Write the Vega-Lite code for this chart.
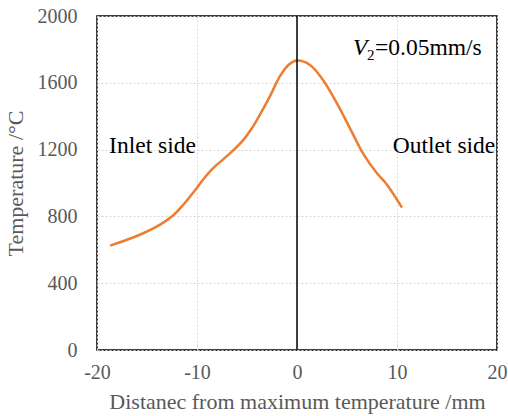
{
  "$schema": "https://vega.github.io/schema/vega-lite/v6.json",
  "autosize": "none",
  "padding": {"left": 97, "top": 16, "right": 11, "bottom": 66},
  "width": 400,
  "height": 334,
  "background": "white",
  "config": {
    "view": {"stroke": "#000000", "strokeWidth": 1.5},
    "font": "Liberation Serif",
    "axis": {
      "labelFont": "Liberation Serif",
      "titleFont": "Liberation Serif",
      "labelColor": "#595959",
      "titleColor": "#595959",
      "labelFontSize": 20,
      "titleFontSize": 22,
      "titleFontWeight": "normal",
      "labelFlush": false,
      "labelOverlap": false,
      "domain": false,
      "ticks": false,
      "gridColor": "#d5d5d5",
      "gridDash": [2, 2],
      "gridWidth": 1
    }
  },
  "datasets": {
    "curve": [
      {"d": -18.7, "t": 625},
      {"d": -16.2, "t": 678},
      {"d": -13.6, "t": 754},
      {"d": -12.4, "t": 805},
      {"d": -11.4, "t": 868},
      {"d": -10.0, "t": 972},
      {"d": -9.4, "t": 1020},
      {"d": -8.6, "t": 1076},
      {"d": -8.0, "t": 1110},
      {"d": -6.7, "t": 1177},
      {"d": -5.4, "t": 1255},
      {"d": -4.6, "t": 1320},
      {"d": -3.7, "t": 1410},
      {"d": -2.7, "t": 1520},
      {"d": -1.7, "t": 1640},
      {"d": -0.8, "t": 1710},
      {"d": 0.0, "t": 1733},
      {"d": 1.3, "t": 1707},
      {"d": 2.6, "t": 1617},
      {"d": 4.0, "t": 1477},
      {"d": 5.3, "t": 1327},
      {"d": 6.6, "t": 1178},
      {"d": 8.0, "t": 1058},
      {"d": 9.0, "t": 990},
      {"d": 10.5, "t": 852}
    ],
    "labels": [
      {"d": -14.45, "t": 1221, "label": "Inlet side"},
      {"d": 14.7, "t": 1221, "label": "Outlet side"}
    ]
  },
  "layer": [
    {
      "data": {"name": "curve"},
      "mark": {"type": "line", "color": "#ED7D31", "strokeWidth": 2.5, "interpolate": "catmull-rom"},
      "encoding": {
        "x": {
          "field": "d", "type": "quantitative",
          "scale": {"domain": [-20, 20], "nice": false},
          "axis": {"values": [-20, -10, 0, 10, 20], "labelExpr": "datum.value + ''", "title": "Distanec from maximum temperature /mm", "labelPadding": 12, "titlePadding": 9}
        },
        "y": {
          "field": "t", "type": "quantitative",
          "scale": {"domain": [0, 2000], "nice": false},
          "axis": {"values": [0, 400, 800, 1200, 1600, 2000], "labelExpr": "datum.value + ''", "title": "Temperature /°C", "labelPadding": 20, "titlePadding": 10}
        }
      }
    },
    {
      "data": {"values": [{"d": 0}]},
      "mark": {"type": "rule", "color": "#000000", "strokeWidth": 1.5},
      "encoding": {"x": {"field": "d", "type": "quantitative"}}
    },
    {
      "data": {"name": "labels"},
      "mark": {"type": "text", "font": "Liberation Serif", "fontSize": 23.5, "color": "#000000", "align": "center", "baseline": "middle"},
      "encoding": {
        "x": {"field": "d", "type": "quantitative"},
        "y": {"field": "t", "type": "quantitative"},
        "text": {"field": "label"}
      }
    },
    {
      "data": {"values": [{"d": 5.6, "t": 1808, "label": "V"}]},
      "mark": {"type": "text", "font": "Liberation Serif", "fontStyle": "italic", "fontSize": 23.5, "color": "#000000", "align": "left", "baseline": "middle"},
      "encoding": {
        "x": {"field": "d", "type": "quantitative"},
        "y": {"field": "t", "type": "quantitative"},
        "text": {"field": "label"}
      }
    },
    {
      "data": {"values": [{"d": 7.0, "t": 1765, "label": "2"}]},
      "mark": {"type": "text", "font": "Liberation Serif", "fontSize": 15, "color": "#000000", "align": "left", "baseline": "middle"},
      "encoding": {
        "x": {"field": "d", "type": "quantitative"},
        "y": {"field": "t", "type": "quantitative"},
        "text": {"field": "label"}
      }
    },
    {
      "data": {"values": [{"d": 7.8, "t": 1808, "label": "=0.05mm/s"}]},
      "mark": {"type": "text", "font": "Liberation Serif", "fontSize": 23.5, "color": "#000000", "align": "left", "baseline": "middle"},
      "encoding": {
        "x": {"field": "d", "type": "quantitative"},
        "y": {"field": "t", "type": "quantitative"},
        "text": {"field": "label"}
      }
    }
  ]
}
